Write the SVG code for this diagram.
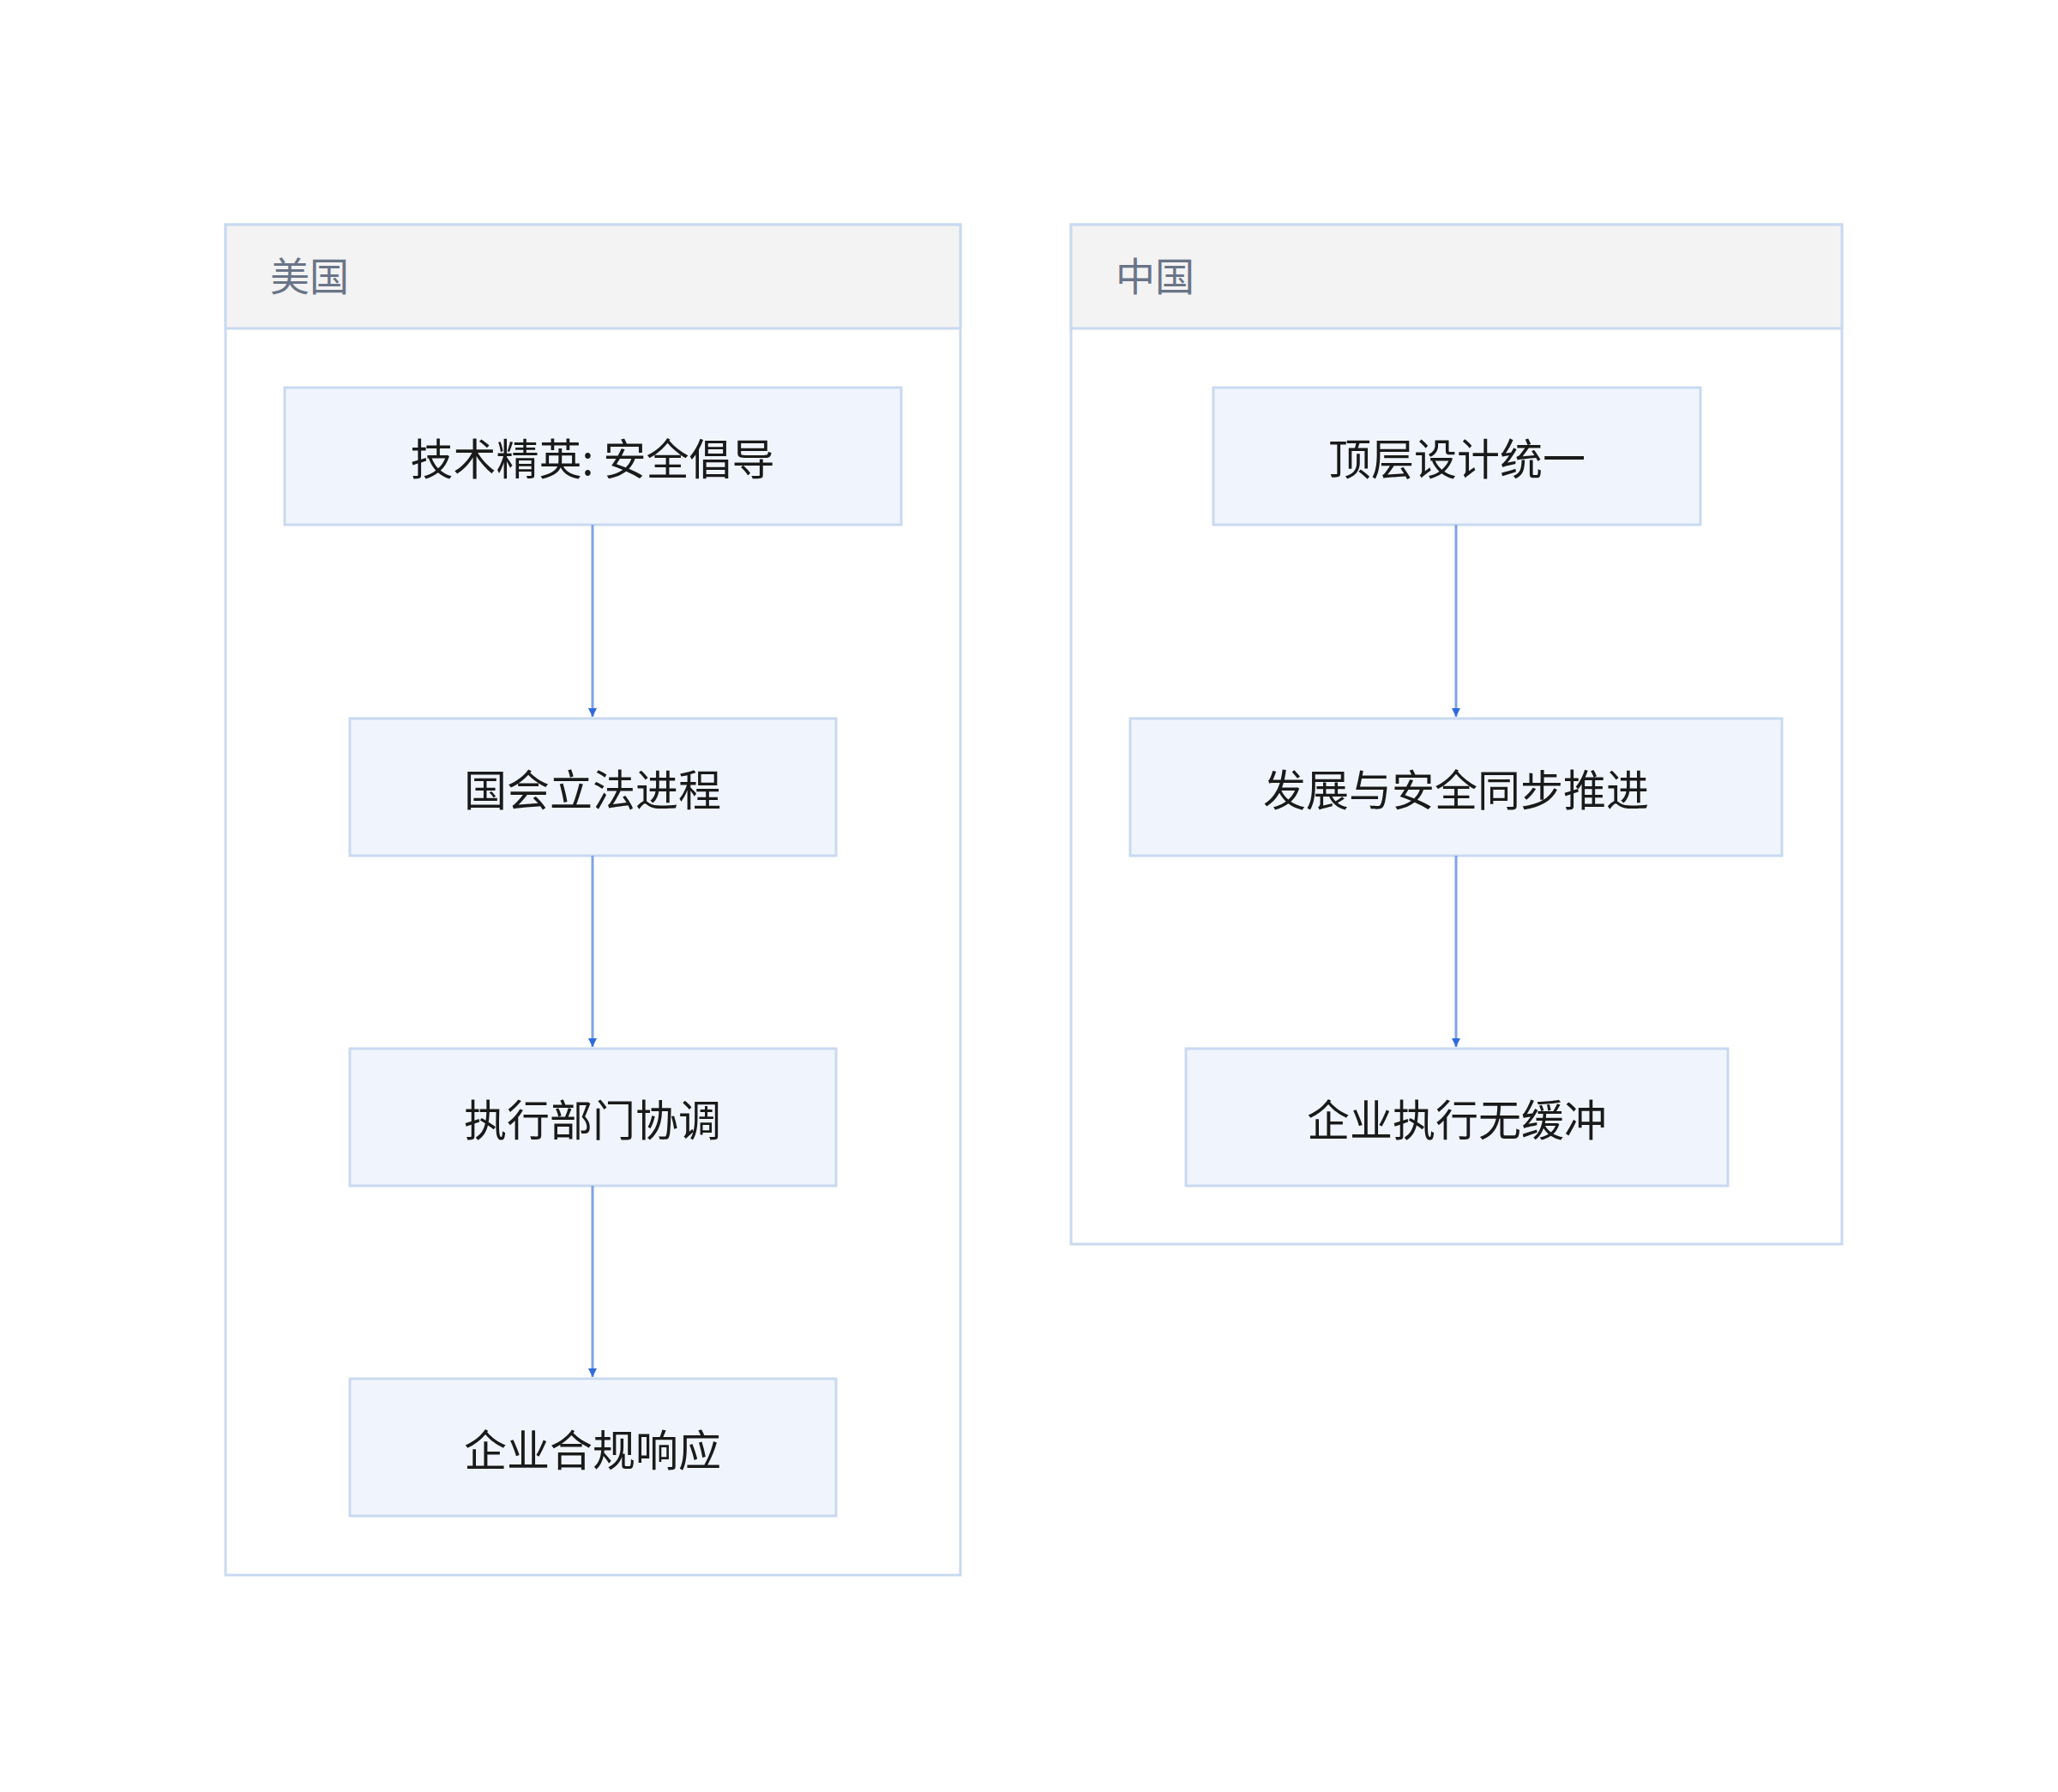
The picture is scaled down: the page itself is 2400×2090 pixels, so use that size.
<svg xmlns="http://www.w3.org/2000/svg" width="2400" height="2090" viewBox="0 0 2400 2090">
<defs>
<marker id="ah" viewBox="0 0 10 10" refX="10" refY="5" markerWidth="10" markerHeight="10" markerUnits="userSpaceOnUse" orient="auto"><path d="M0,0L10,5L0,10z" fill="#2f6bdc"/></marker>
<style>
.cl{fill:#fff;stroke:#c9d9f0;stroke-width:3}
.hd{fill:#f3f3f3;stroke:#c9d9f0;stroke-width:3}
.ht{font-family:"Noto Sans CJK SC",sans-serif;font-size:46px;fill:#6a7488}
.nd{fill:#f0f5fd;stroke:#c9d9f0;stroke-width:3}
.nt{font-family:"Noto Sans CJK SC",sans-serif;font-size:50px;fill:#1a1a1a;text-anchor:middle;dominant-baseline:central}
.e{stroke:#7ea3ea;stroke-width:3;fill:none}
</style>
</defs>
<rect width="2400" height="2090" fill="#fff"/>
<g id="us"><rect class="cl" x="263" y="262" width="857" height="1575"/><rect class="hd" x="263" y="262" width="857" height="121"/><text class="ht" x="315" y="339">美国</text></g>
<g id="cn"><rect class="cl" x="1249" y="262" width="899" height="1189"/><rect class="hd" x="1249" y="262" width="899" height="121"/><text class="ht" x="1301" y="339">中国</text></g>
<g id="a1"><rect class="nd" x="332" y="452" width="719" height="160"/><text class="nt" x="691" y="532">技术精英: 安全倡导</text></g>
<g id="a2"><rect class="nd" x="408" y="838" width="567" height="160"/><text class="nt" x="691" y="918">国会立法进程</text></g>
<g id="a3"><rect class="nd" x="408" y="1223" width="567" height="160"/><text class="nt" x="691" y="1303">执行部门协调</text></g>
<g id="a4"><rect class="nd" x="408" y="1608" width="567" height="160"/><text class="nt" x="691" y="1688">企业合规响应</text></g>
<g id="b1"><rect class="nd" x="1415" y="452" width="568" height="160"/><text class="nt" x="1699" y="532">顶层设计统一</text></g>
<g id="b2"><rect class="nd" x="1318" y="838" width="760" height="160"/><text class="nt" x="1698" y="918">发展与安全同步推进</text></g>
<g id="b3"><rect class="nd" x="1383" y="1223" width="632" height="160"/><text class="nt" x="1699" y="1303">企业执行无缓冲</text></g>
<g id="edges">
<path class="e" d="M691,612V836" marker-end="url(#ah)"/>
<path class="e" d="M691,998V1221" marker-end="url(#ah)"/>
<path class="e" d="M691,1383V1606" marker-end="url(#ah)"/>
<path class="e" d="M1698,612V836" marker-end="url(#ah)"/>
<path class="e" d="M1698,998V1221" marker-end="url(#ah)"/>
</g>
</svg>
